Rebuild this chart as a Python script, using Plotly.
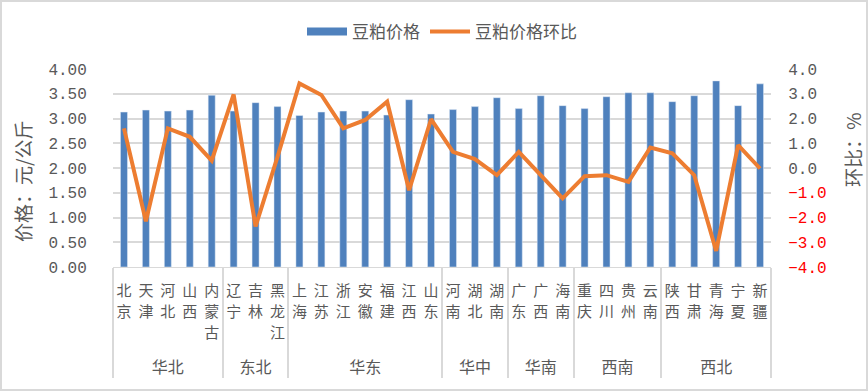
import plotly.graph_objects as go

provinces = ["北京","天津","河北","山西","内蒙古","辽宁","吉林","黑龙江","上海","江苏",
             "浙江","安徽","福建","江西","山东","河南","湖北","湖南","广东","广西",
             "海南","重庆","四川","贵州","云南","陕西","甘肃","青海","宁夏","新疆"]
regions = (["华北"]*5 + ["东北"]*3 + ["华东"]*7 + ["华中"]*3 + ["华南"]*3 +
           ["西南"]*4 + ["西北"]*5)
prices = [3.13, 3.17, 3.15, 3.17, 3.47, 3.15, 3.32, 3.24, 3.06, 3.13,
          3.15, 3.15, 3.07, 3.38, 3.09, 3.18, 3.24, 3.42, 3.20, 3.46,
          3.26, 3.20, 3.44, 3.52, 3.52, 3.34, 3.46, 3.76, 3.26, 3.70]
mom = [1.60, -2.15, 1.60, 1.26, 0.30, 2.97, -2.36, 0.45, 3.42, 2.95,
       1.60, 1.94, 2.68, -0.90, 1.97, 0.65, 0.36, -0.29, 0.65, -0.30,
       -1.23, -0.33, -0.29, -0.56, 0.83, 0.59, -0.29, -3.35, 0.92, -0.02]
left_ticks = [0, 0.5, 1, 1.5, 2, 2.5, 3, 3.5, 4]
right_ticks = [-4, -3, -2, -1, 0, 1, 2, 3, 4]

# stack characters vertically; an invisible spacer line leaves room above the region row
CH = "<span style='font-size:15px'>{}</span>"
SPACER = "<span style='color:rgba(0,0,0,0);font-size:15px'>口</span>"
labels = ["<br>".join(CH.format(c) for c in p) + "<br>" + SPACER for p in provinces]
xcat = [regions, labels]

BLUE = "#4F81BD"
ORANGE = "#ED7D31"
GRAY = "#595959"
GRID = "#D9D9D9"
CJK = "Noto Sans CJK SC"
NUM = "Liberation Mono"

fig = go.Figure()
fig.add_trace(go.Bar(x=xcat, y=prices, name="豆粕价格", marker_color=BLUE,
                     showlegend=False, yaxis="y"))
fig.add_trace(go.Scatter(x=[None], y=[None], mode="lines", name="豆粕价格",
                         line=dict(color=BLUE, width=8), showlegend=True))
fig.add_trace(go.Scatter(x=xcat, y=mom, name="豆粕价格环比", mode="lines",
                         line=dict(color=ORANGE, width=4), yaxis="y2"))

right_text = []
for v in right_ticks:
    s = f"{abs(v):.1f}"
    if v < 0:
        right_text.append(f"<span style='color:#FF0000'>−{s}</span>")
    else:
        right_text.append(s)

W, H = 868, 391
L, R, T, B = 113, 97, 69, 124
pw, ph = W - L - R, H - T - B

fig.update_layout(
    width=W, height=H,
    margin=dict(l=L, r=R, t=T, b=B),
    paper_bgcolor="white", plot_bgcolor="white",
    bargap=0.68,
    font=dict(family=CJK, color=GRAY, size=15),
    showlegend=True,
    legend=dict(orientation="h", x=0.5, xanchor="center", y=1 + (T - 32) / ph,
                yanchor="middle", font=dict(size=17, family=CJK, color=GRAY),
                itemwidth=40, bgcolor="rgba(0,0,0,0)"),
    xaxis=dict(type="multicategory", showgrid=False, showline=True,
               linecolor=GRID, linewidth=1, ticks="", ticklabelstandoff=9,
               showdividers=True, tickangle=0, automargin=False,
               dividercolor=GRID, dividerwidth=2,
               tickfont=dict(family=CJK, size=16, color=GRAY)),
    yaxis=dict(range=[0, 4], tickvals=left_ticks, tickformat=".2f",
               showgrid=True, gridcolor=GRID, gridwidth=2, zeroline=False,
               ticks="outside", ticklen=22, tickcolor="rgba(0,0,0,0)",
               automargin=False,
               tickfont=dict(family=NUM, size=16, color=GRAY)),
    yaxis2=dict(range=[-4, 4], overlaying="y", side="right",
                tickvals=right_ticks, ticktext=right_text, showgrid=False,
                zeroline=False, ticks="outside", ticklen=13,
                tickcolor="rgba(0,0,0,0)", automargin=False,
                tickfont=dict(family=NUM, size=16, color=GRAY)),
    annotations=[
        dict(text="价格：元/公斤", textangle=-90, xref="paper", yref="paper",
             x=(22 - L) / pw, y=(H - B - 182) / ph, showarrow=False,
             xanchor="center", yanchor="middle",
             font=dict(family=CJK, size=19, color=GRAY)),
        dict(text="环比：%", textangle=-90, xref="paper", yref="paper",
             x=(852 - L) / pw, y=(H - B - 150) / ph, showarrow=False,
             xanchor="center", yanchor="middle",
             font=dict(family=CJK, size=19, color=GRAY)),
    ],
    shapes=[dict(type="rect", xref="paper", yref="paper",
                 x0=(1 - L) / pw, x1=(W - 1 - L) / pw,
                 y0=(H - B - (H - 1)) / ph, y1=(H - B - 1) / ph,
                 line=dict(color=GRID, width=2), fillcolor="rgba(0,0,0,0)",
                 layer="below")],
)

fig.write_html("out.html", config={"displayModeBar": False},
               post_script="document.body.style.margin='0px';document.body.style.overflow='hidden';")
